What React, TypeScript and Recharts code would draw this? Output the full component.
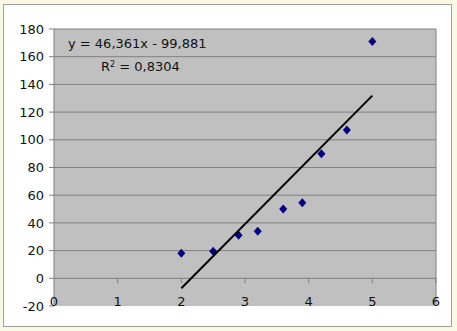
import React from 'react';
import {
  ScatterChart,
  Scatter,
  XAxis,
  YAxis,
  CartesianGrid,
  ReferenceLine,
} from 'recharts';

const xValues = [2, 2.5, 2.9, 3.2, 3.6, 3.9, 4.2, 4.6, 5];
const yValues = [18, 19.5, 31, 34, 50, 54.5, 90, 107, 171];
const trendX = [2, 5];
const trendY = [-7.2, 131.9];
const xTicks = [0, 1, 2, 3, 4, 5, 6];
const yTicks = [-20, 0, 20, 40, 60, 80, 100, 120, 140, 160, 180];
const equationText = 'y = 46,361x - 99,881';
const rSquaredText = '0,8304';

const points = xValues.map((x, i) => ({ x, y: yValues[i] }));
const trend = trendX.map((x, i) => ({ x, y: trendY[i] }));

const FONT = '"DejaVu Sans", sans-serif';
const GRID = '#808080';

const Diamond = (props: any) => {
  const { cx, cy } = props;
  if (cx == null || cy == null) return null;
  return (
    <polygon
      points={`${cx},${cy - 4.5} ${cx + 4},${cy} ${cx},${cy + 4.5} ${cx - 4},${cy}`}
      fill="#000080"
    />
  );
};

const XTick = (props: any) => {
  const { x, y, payload } = props;
  return (
    <text x={x} y={y} textAnchor="middle" fontSize={13} fontFamily={FONT} fill="#111">
      {payload.value}
    </text>
  );
};

export default function App() {
  return (
    <div style={{ position: 'absolute', left: 0, top: 0, width: 457, height: 331, background: '#f8f8e4' }}>
      <div
        style={{
          position: 'absolute',
          left: 3,
          top: 4,
          width: 447,
          height: 321,
          border: '1px solid #a0a0a0',
          background: '#ffffff',
        }}
      />
      <div style={{ position: 'absolute', left: 0, top: 0 }}>
        <ScatterChart width={457} height={331} margin={{ top: 29, right: 21, bottom: 20, left: 14 }}>
          <CartesianGrid horizontal={false} vertical={false} fill="#c0c0c0" fillOpacity={1} />
          <XAxis
            type="number"
            dataKey="x"
            domain={[0, 6]}
            ticks={xTicks}
            height={5}
            axisLine={false}
            tickLine={false}
            tickSize={0}
            tickMargin={0}
            tick={<XTick />}
            interval={0}
          />
          <YAxis
            type="number"
            dataKey="y"
            domain={[-20, 180]}
            ticks={yTicks}
            width={40}
            interval={0}
            tickSize={5}
            tickMargin={5}
            axisLine={{ stroke: GRID }}
            tickLine={{ stroke: GRID }}
            tick={{ fill: '#111', fontSize: 13, fontFamily: FONT }}
          />
          {yTicks
            .filter((v) => v > -20)
            .map((v) => (
              <ReferenceLine key={'g' + v} y={v} stroke={GRID} strokeWidth={1} ifOverflow="visible" />
            ))}
          <ReferenceLine x={6} stroke={GRID} strokeWidth={1} />
          {xTicks
            .filter((v) => v > 0)
            .map((v) => (
              <ReferenceLine
                key={'t' + v}
                segment={[
                  { x: v, y: 0 },
                  { x: v, y: -3.5 },
                ]}
                stroke={GRID}
                strokeWidth={1}
              />
            ))}
          <Scatter data={points} shape={<Diamond />} isAnimationActive={false} />
          <Scatter
            data={trend}
            line={{ stroke: '#000000', strokeWidth: 2 }}
            shape={() => null}
            isAnimationActive={false}
          />
        </ScatterChart>
      </div>
      <div
        style={{
          position: 'absolute',
          left: 68,
          top: 36,
          fontFamily: FONT,
          fontSize: 13,
          color: '#111',
          whiteSpace: 'nowrap',
          lineHeight: '15px',
        }}
      >
        {equationText}
      </div>
      <div
        style={{
          position: 'absolute',
          left: 101,
          top: 59,
          fontFamily: FONT,
          fontSize: 13,
          color: '#111',
          whiteSpace: 'nowrap',
          lineHeight: '15px',
        }}
      >
        R<sup style={{ fontSize: 8, verticalAlign: 'top', position: 'relative', top: -2 }}>2</sup> = {rSquaredText}
      </div>
    </div>
  );
}
